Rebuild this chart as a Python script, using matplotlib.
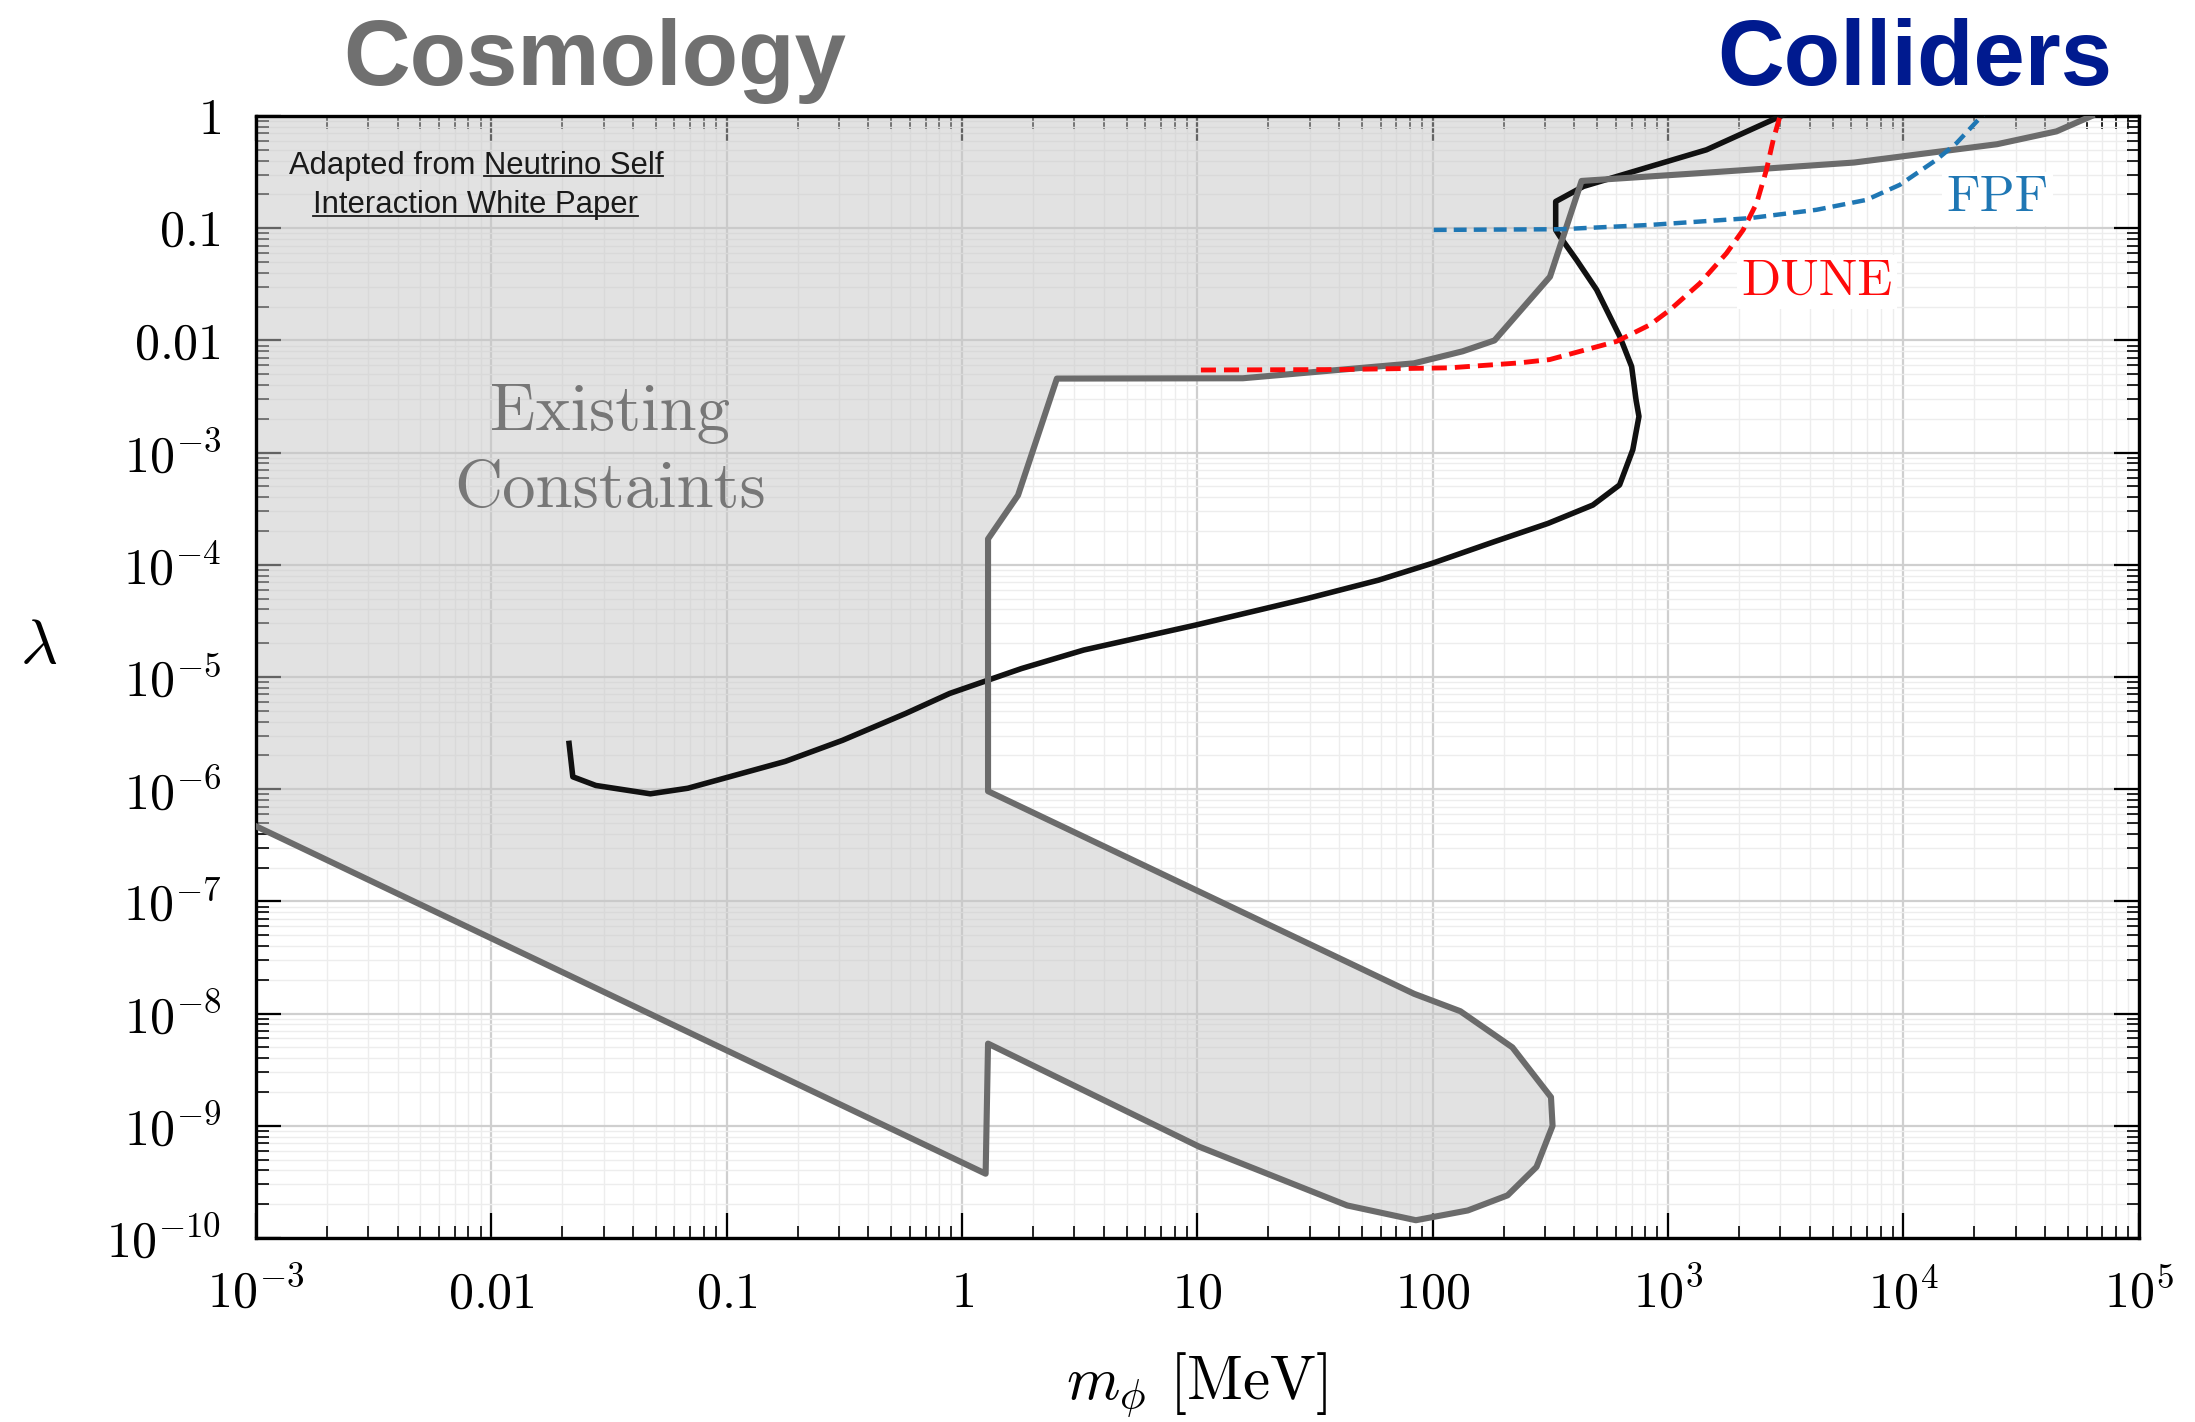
import matplotlib
matplotlib.use('Agg')
import matplotlib.pyplot as plt
from matplotlib.lines import Line2D
from matplotlib.ticker import FixedLocator, FixedFormatter, LogLocator, NullFormatter

plt.rcParams['font.family'] = 'serif'
plt.rcParams['font.serif'] = ['cmr10']
plt.rcParams['mathtext.fontset'] = 'cm'
plt.rcParams['axes.unicode_minus'] = False

# existing constraints boundary (grey), m in MeV
bound_m = [1e-3, 1.26, 1.29, 10.2, 43.3, 84.8, 141, 208, 276, 323, 318, 218, 131, 83.4,
           1.29, 1.29, 1.73, 2.53, 15.6, 83.2, 134, 183, 315, 429, 1370, 6170, 25000, 44700, 63000]
bound_lam = [4.68e-7, 3.74e-10, 5.4e-9, 6.5e-10, 1.95e-10, 1.44e-10, 1.76e-10, 2.4e-10, 4.3e-10,
             1.0e-9, 1.8e-9, 5.0e-9, 1.05e-8, 1.5e-8,
             9.6e-7, 1.7e-4, 4.17e-4, 4.57e-3, 4.6e-3, 6.25e-3, 8.0e-3, 1.0e-2, 3.7e-2, 0.264,
             0.31, 0.385, 0.561, 0.73, 1.0]

# black sensitivity curve
sens_m = [0.0214, 0.0222, 0.0278, 0.0474, 0.0684, 0.1775, 0.311, 0.576, 0.887, 1.79, 3.29, 9.8,
          29.2, 58.8, 99.3, 183, 309, 479, 622, 708, 752, 731, 700, 624, 497, 408, 347, 333, 333,
          437, 1455, 3110]
sens_lam = [2.56e-6, 1.29e-6, 1.08e-6, 9.1e-7, 1.02e-6, 1.77e-6, 2.73e-6, 4.73e-6, 7.14e-6, 1.19e-5,
            1.74e-5, 2.9e-5, 5.0e-5, 7.3e-5, 1.03e-4, 1.61e-4, 2.34e-4, 3.41e-4, 5.15e-4, 1.06e-3,
            2.1e-3, 2.94e-3, 5.85e-3, 0.0108, 0.0283, 0.0523, 0.0844, 0.0966, 0.173, 0.236, 0.50, 1.03]

# DUNE projection
dune_m = [10.35, 40, 118, 232, 314, 604, 837, 1018, 1365, 1770, 2084, 2377, 2618, 2798, 2985, 3010]
dune_lam = [5.45e-3, 5.5e-3, 5.7e-3, 6.3e-3, 6.75e-3, 9.8e-3, 0.01377, 0.0187, 0.0323, 0.0598,
            0.0966, 0.167, 0.332, 0.614, 0.99, 1.05]

# FPF projection
fpf_m = [101, 350, 837, 2224, 4272, 6970, 9660, 13800, 16800, 21800]
fpf_lam = [0.0966, 0.098, 0.107, 0.123, 0.146, 0.179, 0.244, 0.407, 0.573, 1.03]

xtick_vals = [1e-3, 1e-2, 1e-1, 1, 10, 100, 1e3, 1e4, 1e5]
xtick_labels = ['$10^{-3}$', '$0.01$', '$0.1$', '$1$', '$10$', '$100$', '$10^{3}$', '$10^{4}$', '$10^{5}$']
ytick_vals = [1e-10, 1e-9, 1e-8, 1e-7, 1e-6, 1e-5, 1e-4, 1e-3, 1e-2, 1e-1, 1]
ytick_labels = ['$10^{-10}$', '$10^{-9}$', '$10^{-8}$', '$10^{-7}$', '$10^{-6}$', '$10^{-5}$',
                '$10^{-4}$', '$10^{-3}$', '$0.01$', '$0.1$', '$1$']

fig = plt.figure(figsize=(21.95, 14.22), dpi=100)
ax = fig.add_axes([0.1166, 0.1294, 0.8578, 0.7890])
ax.set_xscale('log')
ax.set_yscale('log')
ax.set_xlim(1e-3, 1e5)
ax.set_ylim(1e-10, 1)

# grid
ax.set_axisbelow(True)
ax.grid(True, which='major', color='#cfcfcf', lw=1.6)
ax.grid(True, which='minor', color='#ededed', lw=1.0)

# filled excluded region
ax.fill(bound_m + [1e-3], bound_lam + [1.0], color='#c6c6c6', alpha=0.5, lw=0, zorder=1)

ax.plot(sens_m, sens_lam, color='#111111', lw=4.0, zorder=3)
ax.plot(bound_m, bound_lam, color='#6b6b6b', lw=4.4, zorder=4)
ax.plot(dune_m, dune_lam, color='#ff0a0a', lw=3.5, ls=(0, (3.1, 1.65)), zorder=5)
ax.plot(fpf_m, fpf_lam, color='#1f77b4', lw=3.2, ls=(0, (2.9, 1.6)), zorder=5)

# labels inside
ax.text(4295, 0.02546, 'DUNE', color='#ff0a0a', fontsize=37, ha='center', va='baseline', zorder=6,
        bbox=dict(facecolor='white', edgecolor='none', pad=3))
ax.text(25100, 0.141, 'FPF', color='#1f77b4', fontsize=37, ha='center', va='baseline', zorder=6,
        bbox=dict(facecolor='white', edgecolor='none', pad=3))
fig.text(0.278, 0.709, 'Existing', color='#777777', fontsize=48, ha='center', va='center')
fig.text(0.278, 0.655, 'Constaints', color='#777777', fontsize=48, ha='center', va='center')

# ticks
ax.xaxis.set_major_locator(FixedLocator(xtick_vals))
ax.xaxis.set_major_formatter(FixedFormatter(xtick_labels))
ax.yaxis.set_major_locator(FixedLocator(ytick_vals))
ax.yaxis.set_major_formatter(FixedFormatter(ytick_labels))
ax.xaxis.set_minor_locator(LogLocator(base=10, subs=range(2, 10), numticks=60))
ax.yaxis.set_minor_locator(LogLocator(base=10, subs=range(2, 10), numticks=60))
ax.xaxis.set_minor_formatter(NullFormatter())
ax.yaxis.set_minor_formatter(NullFormatter())
ax.tick_params(which='both', direction='in', top=True, right=True, labelsize=36)
ax.tick_params(which='major', length=18, width=1.6)
ax.tick_params(which='minor', length=9, width=1.2)
ax.tick_params(axis='x', which='major', pad=50)
ax.tick_params(axis='y', which='major', pad=25)
for t in ax.xaxis.get_major_ticks():
    t.label1.set_verticalalignment('baseline')
for s in ax.spines.values():
    s.set_linewidth(2.4)

fig.text(0.5451, 0.0167, r'$m_\phi$ [MeV]', fontsize=44, ha='center', va='baseline')
fig.text(0.0175, 0.545, r'$\lambda$', fontsize=46, ha='center', va='center')

# headings
fig.text(0.271, 0.940, 'Cosmology', family='Liberation Sans', fontweight='bold', fontsize=66.5,
         color='#707070', ha='center', va='baseline')
fig.text(0.8725, 0.940, 'Colliders', family='Liberation Sans', fontweight='bold', fontsize=66.5,
         color='#001a8f', ha='center', va='baseline')

# adapted-from note with underlines
fs_note = 22.3
t1 = fig.text(0.2168, 0.8779, 'Adapted from Neutrino Self', family='Liberation Sans', fontsize=fs_note,
              color='#1a1a1a', ha='center', va='baseline')
t2 = fig.text(0.2168, 0.8502, 'Interaction White Paper', family='Liberation Sans', fontsize=fs_note,
              color='#1a1a1a', ha='center', va='baseline')
tmp = fig.text(0, 0, 'Neutrino Self', family='Liberation Sans', fontsize=fs_note)
fig.canvas.draw()
r = fig.canvas.get_renderer()
W, H = fig.bbox.width, fig.bbox.height
b1 = t1.get_window_extent(r)
b2 = t2.get_window_extent(r)
wn = tmp.get_window_extent(r).width
tmp.remove()
fig.add_artist(Line2D([(b1.x1 - wn) / W, b1.x1 / W], [0.8779 - 2.5 / H] * 2,
                      transform=fig.transFigure, color='#1a1a1a', lw=1.3))
fig.add_artist(Line2D([b2.x0 / W, b2.x1 / W], [0.8502 - 3 / H] * 2,
                      transform=fig.transFigure, color='#1a1a1a', lw=1.3))

fig.savefig('out.png', dpi=100)
